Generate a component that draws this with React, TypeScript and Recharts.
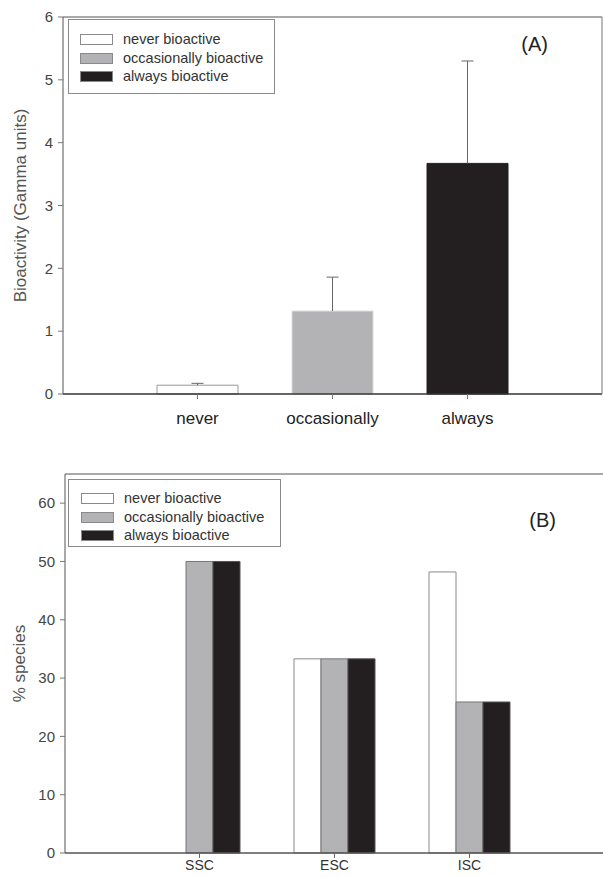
import React from "react"
import {
  BarChart,
  Bar,
  Cell,
  XAxis,
  YAxis,
  Legend,
  ReferenceLine,
} from "recharts"

// Panel A: mean bioactivity per class
const bioCategories = ["never", "occasionally", "always"]
const bioMeans = [0.14, 1.32, 3.67]
const bioErrors = [0.03, 0.54, 1.63]
const bioTicks = [0, 1, 2, 3, 4, 5, 6]

// Panel B: % species per sponge class
const spongeGroups = ["SSC", "ESC", "ISC"]
const neverPct = [0, 33.3, 48.2]
const occasionalPct = [50, 33.3, 25.9]
const alwaysPct = [50, 33.3, 25.9]
const pctTicks = [0, 10, 20, 30, 40, 50, 60]

const legendNames = ["never bioactive", "occasionally bioactive", "always bioactive"]

const WHITE = "#ffffff"
const GRAY = "#b3b3b6"
const BLACK = "#231f20"
const fillColors = [WHITE, GRAY, BLACK]

const FONT = "'Liberation Sans', Arial, sans-serif"

const bioData = bioCategories.map((cat, i) => ({
  cat,
  value: bioMeans[i],
  err: bioErrors[i],
}))

const pctData = spongeGroups.map((group, i) => ({
  group,
  never: neverPct[i],
  occasionally: occasionalPct[i],
  always: alwaysPct[i],
}))

// one-sided error bar: stacked on top of the mean, drawn as a stem + cap
function UpperError(props: any) {
  const { x, y, width, height } = props
  if (!height) return null
  const cx = x + width / 2
  return (
    <g stroke="#666" strokeWidth={1}>
      <line x1={cx} y1={y + height} x2={cx} y2={y} />
      <line x1={cx - 6} y1={y} x2={cx + 6} y2={y} />
    </g>
  )
}

function LegendBox({ width, height, rowTop, swatchLeft, textLeft }: {
  width: number
  height: number
  rowTop: number
  swatchLeft: number
  textLeft: number
}) {
  return (
    <div
      style={{
        position: "relative",
        width,
        height,
        border: "1px solid #8a8a8a",
        background: "#fff",
        boxSizing: "border-box",
        fontFamily: FONT,
      }}
    >
      {legendNames.map((name, i) => (
        <div key={name}>
          <div
            style={{
              position: "absolute",
              left: swatchLeft,
              top: rowTop + i * 18.7 - 6,
              width: 33,
              height: 11,
              background: fillColors[i],
              border: "1px solid #8a8a8a",
              boxSizing: "border-box",
            }}
          />
          <div
            style={{
              position: "absolute",
              left: textLeft,
              top: rowTop + i * 18.7 - 10,
              fontSize: 14.5,
              lineHeight: "18px",
              color: "#333",
              whiteSpace: "nowrap",
            }}
          >
            {name}
          </div>
        </div>
      ))}
    </div>
  )
}

const tickStyle = { fontSize: 15, fill: "#444", fontFamily: FONT }

export default function App() {
  return (
    <div
      style={{
        position: "absolute",
        left: 0,
        top: 0,
        width: 603,
        height: 877,
        background: "#fff",
        overflow: "hidden",
        fontFamily: FONT,
      }}
    >
      <BarChart
        width={603}
        height={440}
        data={bioData}
        margin={{ top: 17, right: 0, left: 0, bottom: 16 }}
        barCategoryGap="20%"
      >
        <XAxis
          dataKey="cat"
          padding={{ left: 67, right: 67 }}
          height={30}
          tickLine={{ stroke: "#777" }}
          tickSize={5}
          tickMargin={13}
          axisLine={{ stroke: "#333", strokeWidth: 1.5 }}
          tick={{ fontSize: 17, fill: "#222", fontFamily: FONT }}
        />
        <YAxis
          width={63}
          domain={[0, 6]}
          ticks={bioTicks}
          tickSize={5}
          tickMargin={5}
          tickLine={{ stroke: "#777" }}
          axisLine={{ stroke: "#555" }}
          tick={tickStyle}
          label={{
            value: "Bioactivity (Gamma units)",
            angle: -90,
            position: "center",
            dx: -12,
            fontSize: 17,
            fill: "#555",
            fontFamily: FONT,
          }}
        />
        <YAxis
          yAxisId="frame"
          orientation="right"
          width={1}
          domain={[0, 6]}
          tick={false}
          tickLine={false}
          axisLine={{ stroke: "#777" }}
        />
        <ReferenceLine
          y={6}
          stroke="#555"
          label={{
            value: "(A)",
            position: "insideTopRight",
            offset: 54,
            dy: -34,
            fontSize: 20,
            fill: "#222",
            fontFamily: FONT,
          }}
        />
        <Legend
          layout="horizontal"
          verticalAlign="middle"
          align="center"
          wrapperStyle={{ left: 68, top: 19, width: "auto" }}
          content={() => (
            <LegendBox width={207} height={75} rowTop={20} swatchLeft={11} textLeft={54} />
          )}
        />
        <Bar dataKey="value" stackId="a" isAnimationActive={false}>
          {bioData.map((d, i) => (
            <Cell
              key={d.cat}
              fill={fillColors[i]}
              stroke={i === 0 ? "#999" : i === 1 ? "#dcdcdc" : BLACK}
            />
          ))}
        </Bar>
        <Bar
          dataKey="err"
          stackId="a"
          fill="none"
          shape={<UpperError />}
          isAnimationActive={false}
        />
      </BarChart>

      <BarChart
        width={603}
        height={437}
        data={pctData}
        margin={{ top: 34, right: 0, left: 0, bottom: 0 }}
        barCategoryGap="20%"
        barGap={0}
      >
        <XAxis
          dataKey="group"
          padding={{ left: 67, right: 66 }}
          height={24}
          tickLine={{ stroke: "#666" }}
          tickSize={5}
          tickMargin={2}
          axisLine={{ stroke: "#555", strokeWidth: 1.5 }}
          tick={{ fontSize: 14, fill: "#333", fontFamily: FONT }}
        />
        <YAxis
          width={65}
          domain={[0, 65]}
          ticks={pctTicks}
          tickSize={5}
          tickMargin={5}
          tickLine={{ stroke: "#777" }}
          axisLine={{ stroke: "#555" }}
          tick={tickStyle}
          label={{
            value: "% species",
            angle: -90,
            position: "center",
            dx: -14,
            fontSize: 17,
            fill: "#555",
            fontFamily: FONT,
          }}
        />
        <ReferenceLine
          y={65}
          stroke="#555"
          label={{
            value: "(B)",
            position: "insideTopRight",
            offset: 47,
            dy: -8,
            fontSize: 20,
            fill: "#222",
            fontFamily: FONT,
          }}
        />
        <Legend
          layout="horizontal"
          verticalAlign="middle"
          align="center"
          wrapperStyle={{ left: 68, top: 39, width: "auto" }}
          content={() => (
            <LegendBox width={213} height={68} rowTop={19} swatchLeft={12} textLeft={55} />
          )}
        />
        <Bar dataKey="never" fill={WHITE} stroke="#8a8a8a" isAnimationActive={false} />
        <Bar dataKey="occasionally" fill={GRAY} stroke="#777" isAnimationActive={false} />
        <Bar dataKey="always" fill={BLACK} stroke="#555" isAnimationActive={false} />
      </BarChart>
    </div>
  )
}
